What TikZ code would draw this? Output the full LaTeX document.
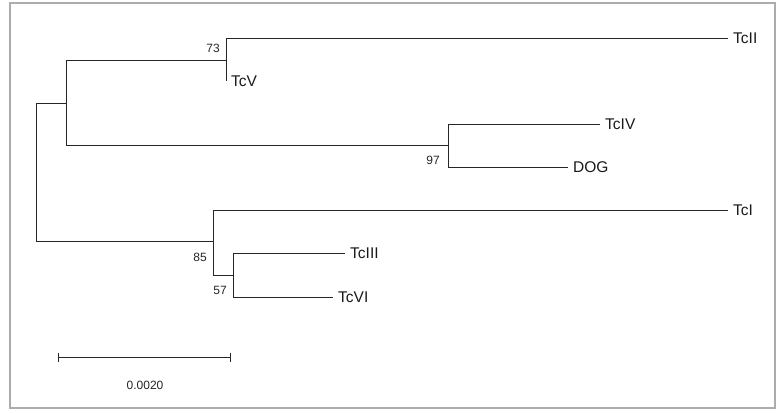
\documentclass[tikz,border=0pt]{standalone}
\usepackage{fontspec}
\setmainfont{Liberation Sans}
\usetikzlibrary{arrows.meta}

\begin{document}
\begin{tikzpicture}[x=1pt,y=-1pt,
    branch/.style={black!85,line width=0.9pt},
    taxon/.style={anchor=west,inner xsep=5pt,inner ysep=0pt,text=black!90,font=\fontsize{15.5}{18}\selectfont},
    boot/.style={anchor=east,inner sep=0pt,text=black!85,font=\fontsize{12}{14}\selectfont}]
  \useasboundingbox (0,0) rectangle (783,412);
  \draw[gray!65,line width=1.5pt] (10,3) rectangle (775,408);
  \coordinate (root) at (36,172);
  \coordinate (nA) at (66,103);
  \coordinate (n73) at (226,60);
  \coordinate (n97) at (448,145);
  \coordinate (nB) at (213,241);
  \coordinate (n57) at (233,275);
  \node[taxon] (tcII) at (728,38){TcII};
  \node[taxon] (tcV) at (226,81){TcV};
  \node[taxon] (tcIV) at (600,124){TcIV};
  \node[taxon] (dog) at (568,167){DOG};
  \node[taxon] (tcI) at (728,210){TcI};
  \node[taxon] (tcIII) at (345,253){TcIII};
  \node[taxon] (tcVI) at (333,297){TcVI};
  \draw[branch] (root) |- (nA);
  \draw[branch] (root) |- (nB);
  \draw[branch] (nA) |- (n73);
  \draw[branch] (nA) |- (n97);
  \draw[branch] (n73) |- (tcII.west);
  \draw[branch] (n73) |- (tcV.west);
  \draw[branch] (n97) |- (tcIV.west);
  \draw[branch] (n97) |- (dog.west);
  \draw[branch] (nB) |- (tcI.west);
  \draw[branch] (nB) |- (n57);
  \draw[branch] (n57) |- (tcIII.west);
  \draw[branch] (n57) |- (tcVI.west);
  \node[boot] (b73) at (220,48){73};
  \node[boot] (b97) at (440,160){97};
  \node[boot] (b85) at (207,257){85};
  \node[boot] (b57) at (227,290){57};
  \coordinate (sbL) at (58,357);
  \coordinate (sbR) at (231,357);
  \draw[branch,{Bar[width=9pt]}-{Bar[width=9pt]}] (sbL) -- (sbR);
  \node[boot,anchor=center] (sbl) at (145,385){0.0020};
\end{tikzpicture}
\end{document}
